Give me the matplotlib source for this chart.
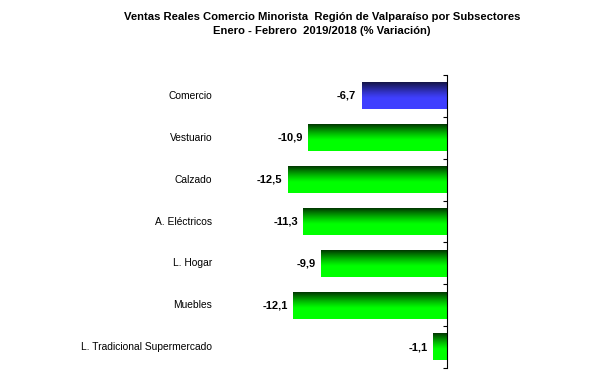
import numpy as np
import matplotlib.pyplot as plt

plt.rcParams['font.family'] = ['Liberation Sans', 'DejaVu Sans']

categorias = ["Comercio", "Vestuario", "Calzado", "A. Eléctricos",
              "L. Hogar", "Muebles", "L. Tradicional Supermercado"]
variacion = [-6.7, -10.9, -12.5, -11.3, -9.9, -12.1, -1.1]
# first bar (Comercio) in blue, rest green
colores = [((0.08, 0.08, 0.28), (0.25, 0.25, 1.0))] + \
          [((0.0, 0.22, 0.0), (0.0, 1.0, 0.0))] * 6


def gradiente(top, bottom, n=64):
    # row 0 = bottom; bright in lower part, dark toward the top
    t = np.clip((np.linspace(0, 1, n) - 0.4) / 0.6, 0, 1) ** 1.2
    top = np.array(top); bottom = np.array(bottom)
    cols = bottom[None, :] * (1 - t[:, None]) + top[None, :] * t[:, None]
    return cols[:, None, :]


fig = plt.figure(figsize=(6.03, 3.78), dpi=100)
ax = fig.add_axes([0.36, 0.026, 0.381, 0.776])

n = len(categorias)
pos = np.arange(n)[::-1]
bars = ax.barh(pos, variacion, height=0.63, color='none', edgecolor='none')

for b, (c_top, c_bot), v, y, cat in zip(bars, colores, variacion, pos, categorias):
    x0, y0 = b.get_x(), b.get_y()
    w, h = b.get_width(), b.get_height()
    ax.imshow(gradiente(c_top, c_bot), extent=(x0, x0 + w, y0, y0 + h),
              origin='lower', aspect='auto', interpolation='bilinear', zorder=2)
    ax.annotate(f"{v:.1f}".replace('.', ','), (v, y), xytext=(-4, 0),
                textcoords='offset points', ha='right', va='center',
                fontsize=8, fontweight='bold')
    ax.text(-0.02, y, cat, transform=ax.get_yaxis_transform(),
            ha='right', va='center', fontsize=7.4)

ax.set_xlim(-18.1, 0)
ax.set_ylim(-0.5, n - 0.5)

for s in ['left', 'top', 'bottom']:
    ax.spines[s].set_visible(False)
ax.spines['right'].set_linewidth(0.8)
ax.set_xticks([])
ax.yaxis.tick_right()
ax.set_yticks(np.arange(-0.5, n, 1.0))
ax.set_yticklabels([])
ax.tick_params(axis='y', direction='in', length=3, width=0.8)

fig.text(0.534, 0.955, "Ventas Reales Comercio Minorista  Región de Valparaíso por Subsectores",
         ha='center', va='center', fontsize=8.1, fontweight='bold')
fig.text(0.534, 0.918, "Enero - Febrero  2019/2018 (% Variación)",
         ha='center', va='center', fontsize=8.1, fontweight='bold')

fig.savefig("out.png", dpi=100)
